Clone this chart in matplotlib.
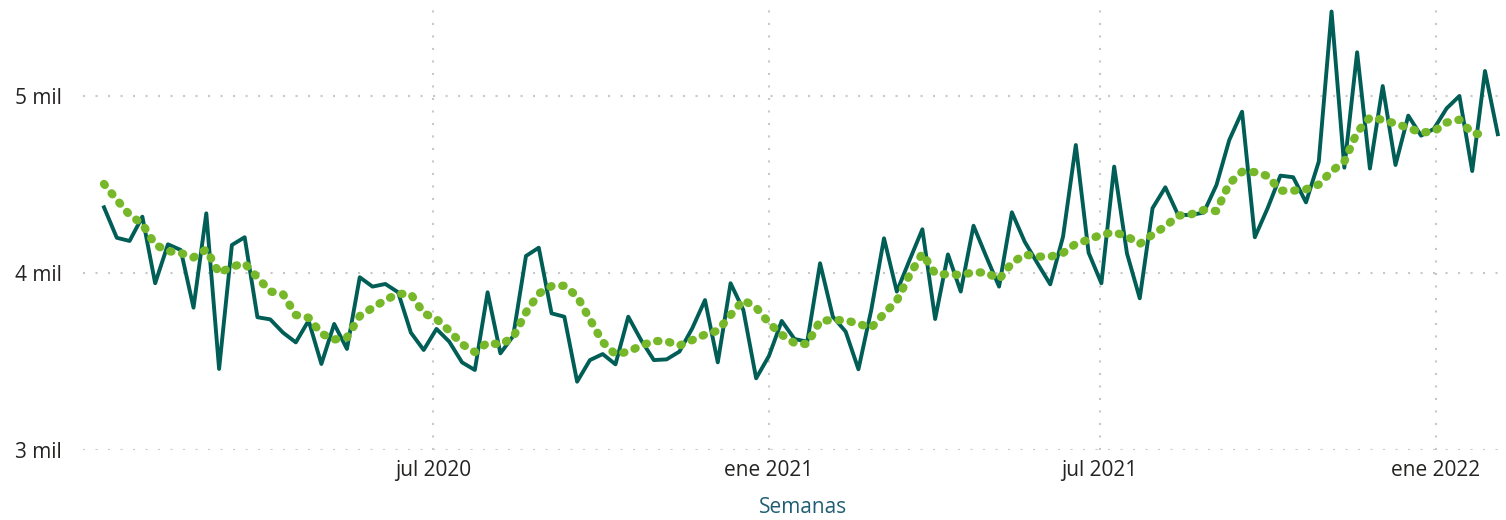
import numpy as np
import pandas as pd
import matplotlib
matplotlib.use("Agg")
import matplotlib.pyplot as plt

plt.rcParams["font.family"] = ["Open Sans", "DejaVu Sans"]

# weekly values
start_week = "2020-01-03"
weekly = [
    4371, 4199, 4181, 4318, 3942, 4162, 4130, 3804, 4337, 3458,
    4158, 4202, 3750, 3738, 3663, 3608, 3731, 3486, 3712, 3571,
    3976, 3923, 3938, 3891, 3663, 3565, 3684, 3612, 3495, 3452,
    3891, 3546, 3644, 4096, 4143, 3772, 3753, 3386, 3508, 3542,
    3484, 3753, 3621, 3508, 3512, 3556, 3687, 3847, 3495, 3942,
    3791, 3405, 3531, 3729, 3627, 3612, 4055, 3753, 3669, 3456,
    3790, 4196, 3895, 4073, 4247, 3740, 4105, 3895, 4267, 4092,
    3923, 4343, 4177, 4055, 3936, 4205, 4723, 4115, 3942, 4601,
    4111, 3857, 4366, 4484, 4328, 4328, 4341, 4497, 4751, 4911,
    4202, 4366, 4550, 4541, 4399, 4629, 5477, 4595, 5247, 4590,
    5056, 4610, 4889, 4776, 4814, 4930, 5000, 4576, 5141, 4784,
]
trend = [
    4503, 4414, 4328, 4277, 4160, 4124, 4113, 4088, 4133, 3999,
    4036, 4054, 3975, 3896, 3880, 3763, 3747, 3658, 3624, 3636,
    3757, 3803, 3847, 3883, 3880, 3773, 3740, 3674, 3598, 3553,
    3607, 3595, 3637, 3777, 3883, 3926, 3928, 3868, 3738, 3610,
    3540, 3556, 3589, 3616, 3614, 3590, 3621, 3652, 3674, 3762,
    3847, 3805, 3718, 3651, 3604, 3598, 3730, 3734, 3733, 3713,
    3690, 3770, 3843, 3989, 4110, 3997, 3991, 3990, 4003, 4003,
    3964, 4057, 4104, 4093, 4092, 4113, 4165, 4188, 4217, 4230,
    4207, 4164, 4217, 4263, 4324, 4331, 4356, 4350, 4505, 4572,
    4570, 4548, 4465, 4465, 4473, 4500, 4575, 4630, 4795, 4879,
    4865, 4844, 4820, 4793, 4800, 4850, 4866, 4790, 4780,
]
tick_dates = ["2020-07-01", "2021-01-01", "2021-07-01", "2022-01-01"]
tick_labels = ["jul 2020", "ene 2021", "jul 2021", "ene 2022"]
y_ticks = [3000, 4000, 5000]
y_labels = ["3 mil", "4 mil", "5 mil"]

weeks = pd.date_range(start_week, periods=len(weekly), freq="7D")

fig = plt.figure(figsize=(15.06, 5.2), dpi=100)
ax = fig.add_axes([83 / 1506, 70 / 520, (1506 - 83) / 1506, 445 / 520])

ax.plot(weeks, weekly, color="#005E57", lw=2.8, zorder=3)
ax.plot(weeks[:len(trend)], trend, color="#76B82A", lw=6.0, zorder=4,
        linestyle=(0, (0.15, 1.3)), dash_capstyle="round")

ref = pd.Timestamp("2020-07-01")
ax.set_xlim(ref - pd.Timedelta(days=191.5), ref + pd.Timedelta(days=587.5))
ax.set_ylim(3000, 5514)

ax.set_xticks(pd.to_datetime(tick_dates))
ax.set_xticklabels(tick_labels)
ax.set_yticks(y_ticks)
ax.set_yticklabels(y_labels)
ax.tick_params(axis="both", length=0, labelsize=15, colors="#252423")
ax.tick_params(axis="x", pad=7)
ax.tick_params(axis="y", pad=15)

ax.grid(True, color="#C8C8C8", lw=1.5, linestyle=(0, (1, 5)))
ax.set_axisbelow(True)
for s in ax.spines.values():
    s.set_visible(False)

ax.set_xlabel("Semanas", fontsize=15, color="#1F5E73")
ax.xaxis.set_label_coords(0.506, -0.105)

fig.savefig("out.png", dpi=100, facecolor="white")
